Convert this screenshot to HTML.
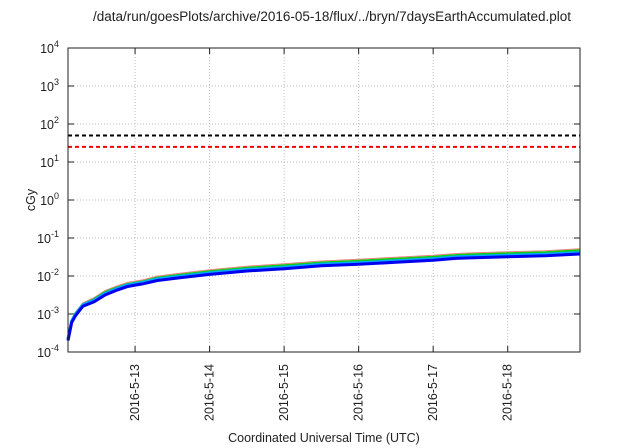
<!DOCTYPE html>
<html><head><meta charset="utf-8"><style>
body{margin:0;background:#fff}
svg{display:block;font-family:"Liberation Sans",sans-serif}
</style></head><body>
<svg id="c" width="640" height="448"></svg>
<script>
const days=[12.1,12.15,12.2,12.3,12.45,12.6,12.75,12.9,13.1,13.3,13.6,14,14.5,15,15.5,16,16.5,17,17.3,17.5,18,18.5,18.97];
const blueVals=[2e-4,6e-4,9e-4,1.6e-3,2.1e-3,3.2e-3,4.2e-3,5.3e-3,6.2e-3,7.6e-3,9e-3,1.1e-2,1.35e-2,1.55e-2,1.85e-2,2.05e-2,2.3e-2,2.6e-2,2.9e-2,3e-2,3.2e-2,3.4e-2,3.8e-2];
const greenVals=[2.2e-4,6.5e-4,1e-3,1.75e-3,2.4e-3,3.7e-3,4.8e-3,6e-3,7e-3,8.8e-3,1.05e-2,1.3e-2,1.6e-2,1.85e-2,2.2e-2,2.45e-2,2.75e-2,3.1e-2,3.45e-2,3.6e-2,3.85e-2,4.1e-2,4.6e-2];
const limitVals=[50,25];
const xTicks=[13,14,15,16,17,18];
const xTickLabels=["2016-5-13","2016-5-14","2016-5-15","2016-5-16","2016-5-17","2016-5-18"];
const yExps=[-4,-3,-2,-1,0,1,2,3,4];
const L=68,R=580,T=48,B=352,x0=12.1,x1=18.97;
const X=d=>L+(d-x0)/(x1-x0)*(R-L);
const Y=v=>B-(Math.log10(v)+4)/8*(B-T);
const s=document.getElementById('c');const NS='http://www.w3.org/2000/svg';
function mk(t,a,txt){const e=document.createElementNS(NS,t);for(const k in a)e.setAttribute(k,a[k]);if(txt!=null)e.textContent=txt;s.appendChild(e);return e;}
let e;
e=mk('text',{x:332,y:21,'text-anchor':'middle','font-size':13.5,fill:'#222'},'/data/run/goesPlots/archive/2016-05-18/flux/../bryn/7daysEarthAccumulated.plot');


yExps.forEach(p=>{const y=Y(Math.pow(10,p));
 if(p>-4&&p<4){e=mk('line',{x1:L,x2:R,y1:y,y2:y,stroke:'#bbb','stroke-dasharray':'1,2'});
 
 }
 mk('line',{x1:L,x2:L+6,y1:y,y2:y,stroke:'#222'});mk('line',{x1:R-6,x2:R,y1:y,y2:y,stroke:'#222'});
 e=mk('text',{x:L-9,y:y+5,'text-anchor':'end','font-size':12.5,fill:'#222'});
 
 
 const a=document.createElementNS(NS,'tspan');a.textContent='10';e.appendChild(a);
 const b=document.createElementNS(NS,'tspan');b.setAttribute('dy','-6');b.setAttribute('font-size','9');b.textContent=p;e.appendChild(b);
});
xTicks.forEach((d,i)=>{const x=X(d);
 e=mk('line',{x1:x,x2:x,y1:T,y2:B,stroke:'#bbb','stroke-dasharray':'1,2'});
 
 
 mk('line',{x1:x,x2:x,y1:B-6,y2:B,stroke:'#222'});mk('line',{x1:x,x2:x,y1:T,y2:T+6,stroke:'#222'});
 e=mk('text',{x:0,y:0,transform:`translate(${x+4},${B+12}) rotate(-90)`,'text-anchor':'end','font-size':12.5,fill:'#222'},xTickLabels[i]);
 
 
});
const cols=['#000','#e00'];
limitVals.forEach((v,i)=>{e=mk('line',{x1:L,x2:R,y1:Y(v),y2:Y(v),stroke:cols[i],'stroke-width':2,'stroke-dasharray':'4,3'});
 
 });
function path(vals){return days.map((d,i)=>(i?'L':'M')+X(d).toFixed(1)+','+Y(vals[i]).toFixed(1)).join('');}
e=mk('path',{d:path(greenVals),fill:'none',stroke:'#f08080','stroke-width':1,transform:'translate(0,-2)'});


e=mk('path',{d:path(greenVals),fill:'none',stroke:'#1c1','stroke-width':3});


e=mk('path',{d:path(blueVals),fill:'none',stroke:'#0af','stroke-width':3,transform:'translate(0,-1.5)'});


e=mk('path',{d:path(blueVals),fill:'none',stroke:'#00e','stroke-width':3});


e=mk('rect',{x:L,y:T,width:R-L,height:B-T,fill:'none',stroke:'#222','stroke-width':1});


e=mk('text',{x:0,y:0,transform:'translate(35,200) rotate(-90)','text-anchor':'middle','font-size':12.5,fill:'#222'},'cGy');


e=mk('text',{x:324,y:442,'text-anchor':'middle','font-size':12.5,fill:'#222'},'Coordinated Universal Time (UTC)');


</script>
</body></html>
